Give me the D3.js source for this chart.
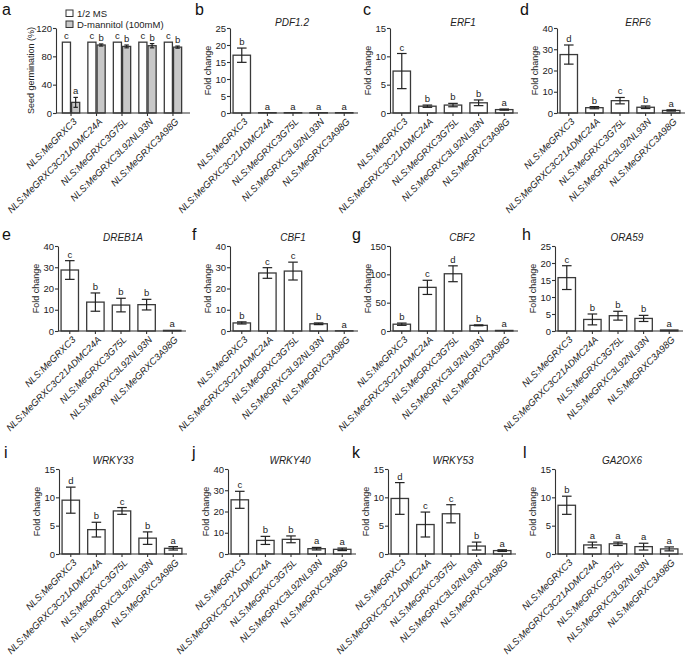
<!DOCTYPE html>
<html>
<head>
<meta charset="utf-8">
<script src="https://cdn.jsdelivr.net/npm/d3@7"></script>
<style>
  body { margin: 0; background: #fff; }
  svg { font-family: "Liberation Sans", Arial, sans-serif; }
  .axis path, .axis line { stroke: #333; stroke-width: 1.1; }
  .axis text { fill: #222; font-size: 9.5px; }
</style>
</head>
<body>
<div id="chart"></div>
<script>
// genotypes on every x axis
var genotypes = ['NLS:MeGRXC3', 'NLS:MeGRXC3C21ADMC24A', 'NLS:MeGRXC3G75L', 'NLS:MeGRXC3L92NL93N', 'NLS:MeGRXC3A98G'];

// panel a: seed germination (%)
var seriesNames = ['1/2 MS', 'D-mannitol (100mM)'];
var msMean = [100, 100, 100, 100, 100];
var msErr = [0, 0, 0, 0, 0];
var msSig = ['c', 'c', 'c', 'c', 'c'];
var manMean = [15, 96, 94, 95, 93];
var manErr = [7, 1.5, 2, 3, 1.5];
var manSig = ['a', 'b', 'b', 'b', 'b'];

// panels b-l: fold change
var pdf12Mean = [17, 0.1, 0.1, 0.1, 0.1],   pdf12Err = [2.1, 0, 0, 0, 0],   pdf12Sig = ['b', 'a', 'a', 'a', 'a'];
var erf1Mean = [7.4, 1.2, 1.4, 1.8, 0.6],   erf1Err = [3.1, 0.2, 0.3, 0.5, 0.1], erf1Sig = ['c', 'b', 'b', 'b', 'a'];
var erf6Mean = [27.5, 2.5, 5.8, 2.7, 1.2],  erf6Err = [4.5, 0.5, 1.5, 0.6, 0.3], erf6Sig = ['d', 'b', 'c', 'b', 'a'];
var dreb1aMean = [28.7, 13.6, 12.2, 12.4, 0.3], dreb1aErr = [4.4, 4.3, 3.2, 2.5, 0], dreb1aSig = ['c', 'b', 'b', 'b', 'a'];
var cbf1Mean = [3.8, 27.3, 28.2, 3.4, 0.1], cbf1Err = [0.5, 2.5, 4.2, 0.4, 0], cbf1Sig = ['b', 'c', 'c', 'b', 'a'];
var cbf2Mean = [12, 77, 101, 10, 1],        cbf2Err = [2, 12.5, 14, 0.8, 0], cbf2Sig = ['b', 'c', 'd', 'b', 'a'];
var ora59Mean = [15.7, 3.4, 4.5, 3.7, 0.3], ora59Err = [3.5, 1.6, 1.3, 0.9, 0], ora59Sig = ['c', 'b', 'b', 'b', 'a'];
var wrky33Mean = [9.5, 4.3, 7.6, 2.8, 1],   wrky33Err = [2.3, 1.3, 0.6, 1.1, 0.3], wrky33Sig = ['d', 'b', 'c', 'b', 'a'];
var wrky40Mean = [25.5, 6.4, 6.9, 2.5, 2.2], wrky40Err = [4, 1.9, 1.6, 0.6, 0.6], wrky40Sig = ['c', 'b', 'b', 'a', 'a'];
var wrky53Mean = [9.8, 5.2, 7.1, 1.4, 0.6], wrky53Err = [2.8, 2.2, 1.6, 0.7, 0.15], wrky53Sig = ['d', 'c', 'c', 'b', 'a'];
var ga2ox6Mean = [8.6, 1.6, 1.8, 1.3, 0.9], ga2ox6Err = [1.6, 0.5, 0.3, 0.6, 0.35], ga2ox6Sig = ['b', 'a', 'a', 'a', 'a'];

var geneNames = ['PDF1.2', 'ERF1', 'ERF6', 'DREB1A', 'CBF1', 'CBF2', 'ORA59', 'WRKY33', 'WRKY40', 'WRKY53', 'GA2OX6'];
var geneMeans = [pdf12Mean, erf1Mean, erf6Mean, dreb1aMean, cbf1Mean, cbf2Mean, ora59Mean, wrky33Mean, wrky40Mean, wrky53Mean, ga2ox6Mean];
var geneErrs = [pdf12Err, erf1Err, erf6Err, dreb1aErr, cbf1Err, cbf2Err, ora59Err, wrky33Err, wrky40Err, wrky53Err, ga2ox6Err];
var geneSigs = [pdf12Sig, erf1Sig, erf6Sig, dreb1aSig, cbf1Sig, cbf2Sig, ora59Sig, wrky33Sig, wrky40Sig, wrky53Sig, ga2ox6Sig];
var geneYMax = [25, 15, 40, 40, 40, 150, 25, 15, 40, 15, 15];
var geneYStep = [5, 5, 10, 10, 10, 50, 5, 5, 10, 5, 5];

// layout (panel a first, then b-l)
var panelLetters = ['a', 'b', 'c', 'd', 'e', 'f', 'g', 'h', 'i', 'j', 'k', 'l'];
var panelX = [56, 230, 390, 557, 58, 230, 390, 555, 59, 228, 388, 555];
var rowTop = [28, 246, 469];
var letterX = [2, 195, 363, 520, 2, 192, 352, 522, 4, 192, 352, 523];
var letterY = [15, 240, 458];
var titleX = [0, 292, 463, 638, 123, 293, 462, 627, 113, 290, 453, 622];
var titleY = [26, 241, 464];

var plotH = 85, plotW = 126;

var svg = d3.select('#chart').append('svg')
  .attr('width', 685)
  .attr('height', 655);

function drawPanel(i, meansList, errsList, sigsList, fills, yMax, yStep, yLabel, w, pOuter) {
  var row = Math.floor(i / 4);
  var g = svg.append('g')
    .attr('transform', 'translate(' + panelX[i] + ',' + rowTop[row] + ')');

  var x = d3.scaleBand().domain(genotypes).range([0, w]).paddingInner(0.32).paddingOuter(pOuter);
  var xs = d3.scaleBand().domain(d3.range(meansList.length)).range([0, x.bandwidth()]).paddingInner(meansList.length > 1 ? 0.12 : 0);
  var y = d3.scaleLinear().domain([0, yMax]).range([plotH, 0]);

  // y axis
  g.append('g').attr('class', 'axis')
    .call(d3.axisLeft(y).tickValues(d3.range(0, yMax + 0.001, yStep)).tickSize(3).tickPadding(1).tickSizeOuter(0));

  // bars
  meansList.forEach(function(means, s) {
    var errs = errsList[s], sigs = sigsList[s];
    var bg = g.append('g');
    var cx = function(j) { return x(genotypes[j]) + xs(s) + xs.bandwidth() / 2; };
    bg.selectAll('rect').data(means).enter().append('rect')
      .attr('x', function(d, j) { return x(genotypes[j]) + xs(s); })
      .attr('y', function(d) { return y(d); })
      .attr('width', xs.bandwidth())
      .attr('height', function(d) { return plotH - y(d); })
      .attr('fill', fills[s])
      .attr('stroke', '#3a3a3a')
      .attr('stroke-width', 1.3);

    var cap = Math.min(xs.bandwidth() * 0.55, 10) / 2;
    means.forEach(function(m, j) {
      var e = errs[j];
      if (e > 0) {
        var eg = bg.append('g').attr('stroke', '#222').attr('stroke-width', 1.2);
        eg.append('line').attr('x1', cx(j)).attr('x2', cx(j)).attr('y1', y(m - e)).attr('y2', y(m + e));
        eg.append('line').attr('x1', cx(j) - cap).attr('x2', cx(j) + cap).attr('y1', y(m + e)).attr('y2', y(m + e));
        eg.append('line').attr('x1', cx(j) - cap).attr('x2', cx(j) + cap).attr('y1', y(m - e)).attr('y2', y(m - e));
      }
      bg.append('text')
        .attr('x', cx(j))
        .attr('y', y(m + e) - 3)
        .attr('text-anchor', 'middle')
        .attr('font-size', '9.5px')
        .attr('fill', '#222')
        .text(sigs[j]);
    });
  });

  // x axis
  var xa = g.append('g').attr('class', 'axis')
    .attr('transform', 'translate(0,' + plotH + ')')
    .call(d3.axisBottom(x).tickSize(3).tickSizeOuter(0));
  xa.select('.domain').attr('d', 'M0,0H' + (w + 2));
  xa.selectAll('text')
    .attr('font-style', 'italic')
    .attr('font-size', '10px')
    .attr('text-anchor', 'end')
    .attr('dy', '0.35em')
    .attr('y', 0)
    .attr('transform', 'translate(4,7) rotate(-45)');

  // y label
  g.append('text')
    .attr('transform', 'translate(' + (i === 0 ? -22 : -19) + ',' + (plotH / 2) + ') rotate(-90)')
    .attr('text-anchor', 'middle')
    .attr('font-size', '9px')
    .attr('fill', '#222')
    .text(yLabel);

  // panel letter
  svg.append('text')
    .attr('x', letterX[i])
    .attr('y', letterY[row])
    .attr('font-size', '16px')
    .attr('fill', '#111')
    .text(panelLetters[i]);

  return g;
}

// panel a
drawPanel(0, [msMean, manMean], [msErr, manErr], [msSig, manSig], ['#fff', '#c8c8c8'],
  120, 40, 'Seed germination (%)', 132, 0.25);

var legend = svg.append('g').attr('transform', 'translate(66,10)');
seriesNames.forEach(function(name, s) {
  legend.append('rect')
    .attr('x', 0).attr('y', s * 11)
    .attr('width', 7).attr('height', 6.5)
    .attr('fill', s === 0 ? '#fff' : '#c8c8c8')
    .attr('stroke', '#333');
  legend.append('text')
    .attr('x', 11).attr('y', s * 11 + 7)
    .attr('font-size', '9.5px')
    .attr('fill', '#222')
    .text(name);
});

// panels b-l
geneNames.forEach(function(gene, k) {
  var i = k + 1;
  drawPanel(i, [geneMeans[k]], [geneErrs[k]], [geneSigs[k]], ['#fff'],
    geneYMax[k], geneYStep[k], 'Fold change', plotW, 0.12);
  svg.append('text')
    .attr('x', titleX[i])
    .attr('y', titleY[Math.floor(i / 4)])
    .attr('text-anchor', 'middle')
    .attr('font-size', '10px')
    .attr('font-style', 'italic')
    .attr('fill', '#222')
    .text(gene);
});
</script>
</body>
</html>
